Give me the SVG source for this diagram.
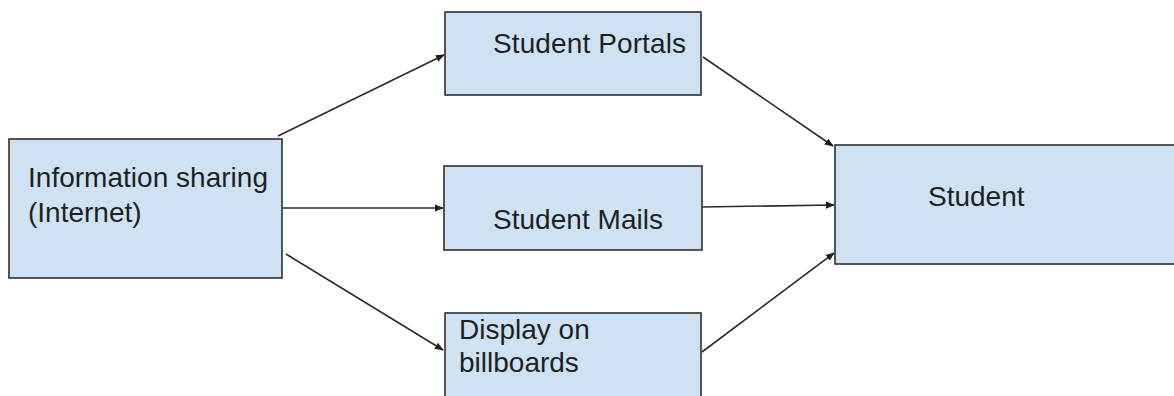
<svg xmlns="http://www.w3.org/2000/svg" width="1174" height="396" viewBox="0 0 1174 396">
<style>
.box{fill:#cfe2f3;stroke:#2f2f2f;stroke-width:1.6}
.lbl{font-family:"Liberation Sans",Arial,sans-serif;font-size:28px;fill:#1f1f1f}
.edge{stroke:#2a2a2a;stroke-width:1.6;fill:none;marker-end:url(#ah)}
</style>
<defs>
<marker id="ah" viewBox="0 0 10 10" refX="9" refY="5" markerWidth="9" markerHeight="9" markerUnits="userSpaceOnUse" orient="auto">
<path d="M0,1 L10,5 L0,9 Z" fill="#1f1f1f"/>
</marker>
</defs>
<rect width="1174" height="396" fill="#ffffff"/>
<g id="connectors">
<line class="edge" x1="278" y1="136" x2="444" y2="55"/>
<line class="edge" x1="283" y1="208" x2="443" y2="208"/>
<line class="edge" x1="286" y1="254" x2="443" y2="350"/>
<line class="edge" x1="703" y1="57" x2="833" y2="146"/>
<line class="edge" x1="702" y1="207" x2="834" y2="205"/>
<line class="edge" x1="702" y1="352" x2="834" y2="253"/>
</g>
<g id="info">
<rect class="box" x="9" y="139" width="273" height="139"/>
<text class="lbl" x="28" y="187" textLength="240">Information sharing</text>
<text class="lbl" x="28" y="222">(Internet)</text>
</g>
<g id="portals">
<rect class="box" x="445" y="12" width="256" height="83"/>
<text class="lbl" x="493" y="53" textLength="193">Student Portals</text>
</g>
<g id="mails">
<rect class="box" x="444" y="166" width="258" height="84"/>
<text class="lbl" x="493" y="229" textLength="170">Student Mails</text>
</g>
<g id="display">
<rect class="box" x="445" y="313" width="256" height="100"/>
<text class="lbl" x="459" y="339">Display on</text>
<text class="lbl" x="459" y="372">billboards</text>
</g>
<g id="student">
<rect class="box" x="835" y="145" width="345" height="119"/>
<text class="lbl" x="928" y="206">Student</text>
</g>
</svg>
